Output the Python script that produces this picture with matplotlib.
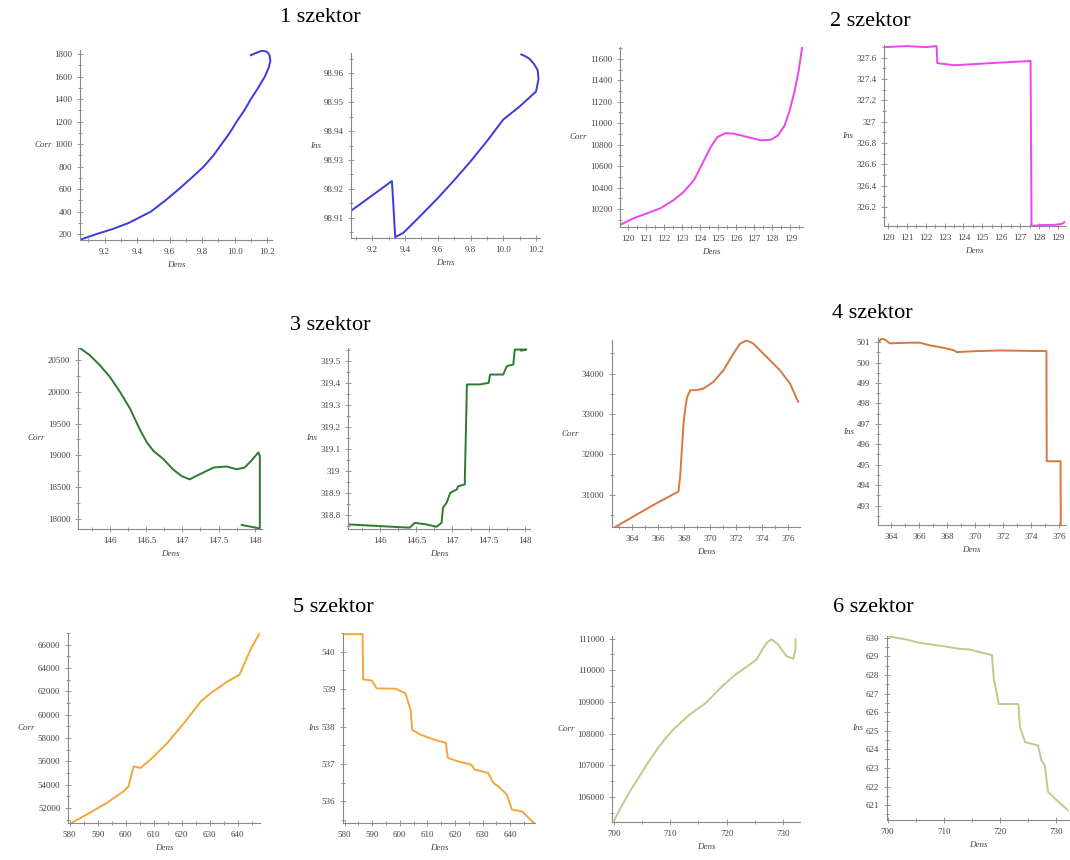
import matplotlib
matplotlib.use("Agg")
import matplotlib.pyplot as plt
from matplotlib.ticker import FormatStrFormatter, AutoMinorLocator

# sector 1
dens1_c = [9.05, 9.15, 9.25, 9.35, 9.485, 9.575, 9.657, 9.735, 9.81, 9.87, 9.92, 9.97, 10.013,
           10.06, 10.1, 10.145, 10.186, 10.21, 10.22, 10.215, 10.2, 10.17, 10.14, 10.10]
corr1 = [150, 200, 245, 300, 400, 500, 600, 700, 800, 900, 1000, 1100, 1200,
         1300, 1400, 1500, 1600, 1680, 1740, 1790, 1820, 1830, 1815, 1790]
dens1_i = [9.07, 9.32, 9.34, 9.39, 9.5, 9.6, 9.7, 9.8, 9.9, 10.0, 10.1, 10.2, 10.215, 10.21,
           10.19, 10.16, 10.13, 10.11]
ins1 = [98.9124, 98.9227, 98.9033, 98.9048, 98.911, 98.9168, 98.923, 98.9295, 98.9365, 98.944,
        98.9485, 98.9537, 98.958, 98.961, 98.963, 98.965, 98.966, 98.9665]

# sector 2
dens2_c = [119.55, 120.30, 121.04, 121.79, 122.53, 123.09, 123.65, 124.12, 124.58, 124.95,
           125.42, 125.88, 126.63, 127.37, 127.93, 128.31, 128.68, 128.96, 129.24, 129.46, 129.65]
corr2 = [10052, 10114, 10160, 10207, 10284, 10361, 10469, 10624, 10778, 10871,
         10908, 10902, 10871, 10840, 10846, 10886, 10979, 11118, 11303, 11489, 11705]
dens2_i = [119.8, 121.0, 122.0, 122.58, 122.62, 123.5, 124.5, 125.5, 126.5, 127.55, 127.6,
           128.2, 128.8, 129.2, 129.37]
ins2 = [327.70, 327.71, 327.70, 327.71, 327.55, 327.53, 327.54, 327.55, 327.56, 327.57, 326.02,
        326.03, 326.03, 326.04, 326.06]

# sector 3
dens3_c = [145.59, 145.72, 145.86, 146.0, 146.14, 146.28, 146.41, 146.51, 146.6, 146.74,
           146.87, 146.99, 147.10, 147.24, 147.43, 147.61, 147.75, 147.86, 147.95, 148.05,
           148.07, 148.07, 147.82]
corr3 = [20686, 20579, 20421, 20236, 19998, 19733, 19416, 19205, 19071, 18940,
         18781, 18675, 18622, 18702, 18808, 18825, 18781, 18808, 18913, 19046,
         18992, 17850, 17905]
dens3_i = [145.56, 146.41, 146.48, 146.64, 146.78, 146.85, 146.87, 146.92, 146.97, 147.06,
           147.08, 147.17, 147.2, 147.38, 147.5, 147.52, 147.7, 147.75, 147.84, 147.86,
           148.02, 147.95]
ins3 = [318.756, 318.741, 318.763, 318.756, 318.745, 318.763, 318.832, 318.855, 318.90, 318.915,
        318.93, 318.938, 319.394, 319.394, 319.401, 319.439, 319.439, 319.477, 319.485, 319.553,
        319.553, 319.548]

# sector 4
dens4_c = [362.72, 364.12, 365.91, 367.57, 367.7, 367.85, 367.96, 368.1, 368.22, 368.47, 368.98,
           369.49, 370.26, 371.02, 371.79, 372.3, 372.81, 373.32, 374.34, 375.36, 376.13, 376.76]
corr4 = [30203, 30465, 30795, 31081, 31451, 32200, 32767, 33150, 33400, 33589, 33589,
         33630, 33795, 34082, 34493, 34740, 34822, 34740, 34411, 34082, 33753, 33301]
dens4_i = [363.04, 363.28, 363.52, 363.88, 365.32, 366.04, 366.76, 367.72, 368.44, 368.68,
           370.12, 371.8, 374.91, 375.11, 375.13, 376.12, 376.14]
ins4 = [500.97, 501.16, 501.13, 500.94, 500.97, 500.97, 500.84, 500.72, 500.61, 500.51,
        500.56, 500.59, 500.56, 500.56, 495.17, 495.17, 492.06]

# sector 5
dens5_c = [580.6, 586.0, 593.2, 599.2, 601.0, 602.8, 605.2, 608.8, 614.8, 620.8,
           626.8, 630.4, 636.4, 640.6, 642.4, 644.8, 647.8]
corr5 = [50714, 51429, 52430, 53430, 53857, 55570, 55430, 56143, 57572, 59286,
         61140, 61860, 62855, 63429, 64430, 65715, 67000]
dens5_i = [579.4, 586.5, 586.7, 589.8, 591.6, 598.4, 602.0, 603.9, 604.5, 607.6, 612.4,
           616.7, 617.4, 621.0, 625.9, 627.1, 632.0, 633.9, 635.7, 638.8, 640.6, 644.3, 648.6]
ins5 = [540.47, 540.47, 539.26, 539.23, 539.02, 539.01, 538.89, 538.45, 537.91, 537.78, 537.65,
        537.56, 537.16, 537.07, 536.98, 536.85, 536.76, 536.49, 536.40, 536.18, 535.78, 535.73,
        535.42]

# sector 6
dens6_c = [700.1, 701.2, 702.3, 703.5, 704.7, 706.1, 707.6, 709.0, 710.5, 713.4, 716.3, 719.2,
           721.6, 723.3, 725.3, 726.5, 727.3, 728.0, 729.1, 730.6, 731.8, 732.2, 732.2]
corr6 = [105258, 105640, 106000, 106350, 106688, 107090, 107482, 107810, 108118, 108594,
         108966, 109494, 109866, 110078, 110342, 110714, 110900, 110978, 110819, 110447,
         110364, 110660, 110978]
dens6_i = [700.0, 703.4, 705.7, 709.8, 712.8, 714.5, 716.9, 718.6, 718.9, 719.8, 723.3,
           723.6, 724.5, 726.8, 727.4, 728.0, 728.6, 730.1, 732.1]
ins6 = [630.09, 629.91, 629.73, 629.56, 629.41, 629.38, 629.2, 629.07, 627.86, 626.44, 626.44,
        625.19, 624.39, 624.21, 623.41, 623.14, 621.71, 621.27, 620.73]

titles = ["1 szektor", "2 szektor", "3 szektor", "4 szektor", "5 szektor", "6 szektor"]
title_pos = [(320, 18), (870, 22), (330, 325), (872, 313), (333, 608), (873, 608)]
colors = ["#3b3bdc", "#ee44ee", "#2e7a2e", "#d8783c", "#f2a73c", "#c4c88a"]

W, H = 1070, 860
fig = plt.figure(figsize=(W / 100, H / 100), dpi=100)
serif = "Liberation Serif"


def panel(box, x, y, color, xlim, ylim, xt, yt, ylabel, xfmt, yfmt):
    l, r, t, b = box
    ax = fig.add_axes([l / W, 1 - b / H, (r - l) / W, (b - t) / H])
    ax.plot(x, y, color=color, lw=1.4)
    ax.set_xlim(*xlim)
    ax.set_ylim(*ylim)
    ax.set_xticks(xt)
    ax.set_yticks(yt)
    ax.xaxis.set_major_formatter(FormatStrFormatter(xfmt))
    ax.yaxis.set_major_formatter(FormatStrFormatter(yfmt))
    ax.xaxis.set_minor_locator(AutoMinorLocator(2))
    ax.yaxis.set_minor_locator(AutoMinorLocator(2))
    for s in ["top", "right"]:
        ax.spines[s].set_visible(False)
    for s in ["left", "bottom"]:
        ax.spines[s].set_color("#888888")
        ax.spines[s].set_linewidth(0.8)
    ax.tick_params(which="both", direction="inout", colors="#888888", labelcolor="#444444",
                   labelsize=6.5, width=0.6)
    ax.tick_params(which="major", length=4)
    ax.tick_params(which="minor", length=2.5)
    for lab in ax.get_xticklabels() + ax.get_yticklabels():
        lab.set_family(serif)
    ax.set_xlabel("Dens", family=serif, style="italic", fontsize=6.5, color="#444444", labelpad=4)
    ax.set_ylabel(ylabel, family=serif, style="italic", fontsize=6.5, color="#444444",
                  rotation=0, ha="right", va="center", labelpad=2)
    return ax


# row 1
panel((80, 272, 50, 240), dens1_c, corr1, colors[0], (9.048, 10.23), (147, 1836),
      [9.2, 9.4, 9.6, 9.8, 10.0, 10.2], list(range(200, 1801, 200)), "Corr", "%.1f", "%d")
panel((351, 540, 53, 238), dens1_i, ins1, colors[0], (9.07, 10.224), (98.903, 98.967),
      [9.2, 9.4, 9.6, 9.8, 10.0, 10.2], [98.91, 98.92, 98.93, 98.94, 98.95, 98.96], "Ins",
      "%.1f", "%.2f")
panel((620, 803, 47, 227), dens2_c, corr2, colors[1], (119.55, 129.7), (10033, 11710),
      list(range(120, 130)), list(range(10200, 11601, 200)), "Corr", "%d", "%d")
panel((884, 1065, 45, 226), dens2_i, ins2, colors[1], (119.8, 129.37), (326.02, 327.72),
      list(range(120, 130)), [326.2, 326.4, 326.6, 326.8, 327.0, 327.2, 327.4, 327.6], "Ins",
      "%d", "%g")
# row 2
panel((78, 262, 348, 529), dens3_c, corr3, colors[2], (145.56, 148.1), (17841, 20690),
      [146, 146.5, 147, 147.5, 148], list(range(18000, 20501, 500)), "Corr", "%g", "%d")
panel((348, 530, 348, 529), dens3_i, ins3, colors[2], (145.56, 148.07), (318.735, 319.56),
      [146, 146.5, 147, 147.5, 148], [318.8, 318.9, 319.0, 319.1, 319.2, 319.3, 319.4, 319.5],
      "Ins", "%g", "%g")
panel((612, 800, 340, 527), dens4_c, corr4, colors[3], (362.47, 376.9), (30203, 34830),
      list(range(364, 377, 2)), [31000, 32000, 33000, 34000], "Corr", "%d", "%d")
panel((878, 1065, 338, 525), dens4_i, ins4, colors[3], (363.04, 376.44), (492.05, 501.2),
      list(range(364, 377, 2)), list(range(493, 502)), "Ins", "%d", "%d")
# row 3
panel((68, 260, 633, 823), dens5_c, corr5, colors[4], (579.4, 647.9), (50714, 67000),
      list(range(580, 641, 10)), list(range(52000, 66001, 2000)), "Corr", "%d", "%d")
panel((343, 535, 633, 823), dens5_i, ins5, colors[4], (579.4, 649.0), (535.42, 540.5),
      list(range(580, 641, 10)), [536, 537, 538, 539, 540], "Ins", "%d", "%d")
panel((612, 800, 636, 822), dens6_c, corr6, colors[5], (699.7, 733.0), (105206, 111083),
      [700, 710, 720, 730], list(range(106000, 111001, 1000)), "Corr", "%d", "%d")
panel((887, 1070, 636, 820), dens6_i, ins6, colors[5], (699.9, 732.5), (620.2, 630.1),
      [700, 710, 720, 730], list(range(621, 631)), "Ins", "%d", "%d")

for txt, (x, y) in zip(titles, title_pos):
    fig.text(x / W, 1 - y / H, txt, family=serif, fontsize=16, ha="center", va="center")

fig.savefig("out.png", dpi=100, facecolor="white")
